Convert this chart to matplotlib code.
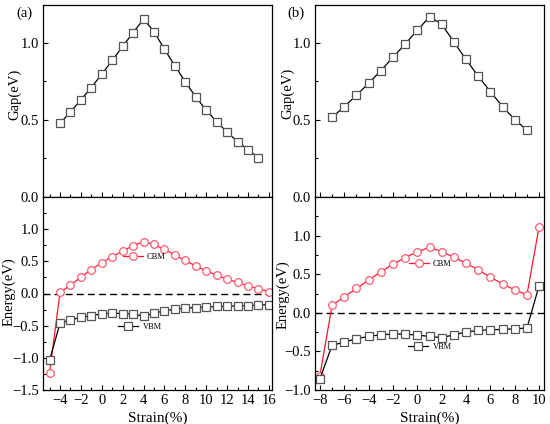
import matplotlib
matplotlib.use("Agg")
import matplotlib.pyplot as plt
from matplotlib.ticker import MultipleLocator

plt.rcParams['font.family'] = ['Liberation Serif', 'DejaVu Serif']
plt.rcParams['mathtext.fontset'] = 'stix'

# ---- Panel (a) data ----
a_gap_strain = [-4, -3, -2, -1, 0, 1, 2, 3, 4, 5, 6, 7, 8, 9, 10, 11, 12, 13, 14, 15]
a_gap = [0.478, 0.55, 0.63, 0.709, 0.796, 0.885, 0.976, 1.065, 1.152, 1.072,
         0.957, 0.85, 0.746, 0.648, 0.563, 0.487, 0.42, 0.359, 0.307, 0.254]
a_strain = [-5, -4, -3, -2, -1, 0, 1, 2, 3, 4, 5, 6, 7, 8, 9, 10, 11, 12, 13, 14, 15, 16]
a_cbm = [-1.228, 0.016, 0.13, 0.254, 0.373, 0.477, 0.575, 0.658, 0.746, 0.803, 0.762,
         0.684, 0.601, 0.513, 0.425, 0.352, 0.285, 0.223, 0.171, 0.119, 0.073, 0.031]
a_vbm = [-1.036, -0.461, -0.409, -0.373, -0.342, -0.316, -0.306, -0.311, -0.321, -0.352,
         -0.306, -0.269, -0.244, -0.228, -0.218, -0.212, -0.202, -0.197, -0.192, -0.187,
         -0.181, -0.171]

# ---- Panel (b) data ----
b_gap_strain = [-7, -6, -5, -4, -3, -2, -1, 0, 1, 2, 3, 4, 5, 6, 7, 8, 9]
b_gap = [0.515, 0.585, 0.659, 0.736, 0.819, 0.904, 0.991, 1.079, 1.168, 1.12,
         1.004, 0.891, 0.782, 0.683, 0.585, 0.502, 0.432]
b_strain = [-8, -7, -6, -5, -4, -3, -2, -1, 0, 1, 2, 3, 4, 5, 6, 7, 8, 9, 10]
b_cbm = [-0.815, 0.095, 0.207, 0.315, 0.422, 0.53, 0.629, 0.716, 0.789, 0.849, 0.793,
         0.72, 0.642, 0.556, 0.461, 0.375, 0.297, 0.233, 1.116]
b_vbm = [-0.858, -0.422, -0.379, -0.336, -0.306, -0.284, -0.276, -0.276, -0.289, -0.306,
         -0.323, -0.284, -0.25, -0.228, -0.22, -0.216, -0.207, -0.198, 0.353]

W, H = 550, 424
fig = plt.figure(figsize=(5.5, 4.24), dpi=100)

RED = '#ff1a2e'
RED_M = '#ff5a6e'
SQ = '#555555'

def ax_rect(x0, x1, ytop, ybot):
    return [x0 / W, (H - ybot) / H, (x1 - x0) / W, (ybot - ytop) / H]

def style(ax, xmaj, ymaj, yminor):
    ax.tick_params(direction='in', which='both', top=False, right=False,
                   labelsize=10.5, length=3.5, width=0.8, pad=3)
    ax.xaxis.set_major_locator(MultipleLocator(xmaj))
    ax.xaxis.set_minor_locator(MultipleLocator(1))
    ax.yaxis.set_major_locator(MultipleLocator(ymaj))
    ax.yaxis.set_minor_locator(MultipleLocator(yminor))
    ax.tick_params(which='minor', length=2.5)
    for s in ax.spines.values():
        s.set_linewidth(0.9)

def panel(x0, x1, xlim, gs, g, s, cbm, vbm, ylim_b, yticks_b, label,
          cbm_leg, vbm_leg, gap_lx, gap_ly, en_lx, en_ly):
    w = x1 - x0
    axt = fig.add_axes(ax_rect(x0, x1, 4.5, 197))
    axb = fig.add_axes(ax_rect(x0, x1, 197, 390))
    axt.plot(gs, g, '-', color='black', lw=0.9, marker='s', ms=5.2,
             mfc='white', mec=SQ, mew=0.9)
    axt.set_xlim(*xlim)
    axt.set_ylim(0, 1.247)
    style(axt, 2, 0.5, 0.25)
    axt.set_yticks([0.0, 0.5, 1.0])
    axt.set_yticklabels(['0.0', '0.5', '1.0'])
    axt.tick_params(labelbottom=False)
    axt.set_ylabel('Gap(eV)', fontsize=10.5)
    axt.yaxis.set_label_coords((gap_lx - x0) / w, (197 - gap_ly) / 192.5)

    axb.axhline(0, color='black', lw=1.0, ls=(0, (5, 3)))
    lc, = axb.plot(s, cbm, '-', color=RED, lw=0.9, marker='o', ms=5.5,
                   mfc='white', mec=RED_M, mew=0.9)
    lv, = axb.plot(s, vbm, '-', color='black', lw=0.9, marker='s', ms=5.2,
                   mfc='white', mec=SQ, mew=0.9)
    axb.set_xlim(*xlim)
    axb.set_ylim(*ylim_b)
    style(axb, 2, 0.5, 0.25)
    axb.set_yticks(yticks_b)
    axb.set_yticklabels(['%.1f' % v if v >= 0 else '\u2212%.1f' % -v for v in yticks_b])
    xt = [v for v in range(int(xlim[0]) - 1, int(xlim[1]) + 1) if v % 2 == 0 and xlim[0] < v < xlim[1]]
    axb.set_xticks(xt)
    axb.set_xticklabels([str(v) if v >= 0 else '\u2212%d' % -v for v in xt])
    axb.set_xlabel('Strain(%)', fontsize=11)
    axb.xaxis.set_label_coords(0.5, (390 - 412) / 193)
    axb.set_ylabel('Energy(eV)', fontsize=10.5)
    axb.yaxis.set_label_coords((en_lx - x0) / w, (390 - en_ly) / 193)

    kw = dict(loc='center', frameon=False, fontsize=6, handlelength=2.4,
              handletextpad=0.5, borderpad=0, borderaxespad=0)
    leg1 = axb.legend([lc], ['CBM'], bbox_to_anchor=((cbm_leg[0] - x0) / w, (390 - cbm_leg[1]) / 193), **kw)
    axb.add_artist(leg1)
    axb.legend([lv], ['VBM'], bbox_to_anchor=((vbm_leg[0] - x0) / w, (390 - vbm_leg[1]) / 193), **kw)

    fig.text((x0 - 19) / W, (H - 13) / H, label, fontsize=10.5,
             ha='center', va='center')
    return axt, axb

# label x coordinates below are the right edges of the rotated y labels
panel(43, 272, (-5.63, 16.3), a_gap_strain, a_gap, a_strain, a_cbm, a_vbm,
      (-1.5, 1.5), [-1.5, -1.0, -0.5, 0.0, 0.5, 1.0], '(a)',
      (144, 257), (140, 327), 21, 94, 15.5, 292)
panel(315, 544, (-8.4, 10.4), b_gap_strain, b_gap, b_strain, b_cbm, b_vbm,
      (-1.0, 1.5), [-1.0, -0.5, 0.0, 0.5, 1.0], '(b)',
      (430, 264), (430, 347), 294, 93, 290, 295)

fig.savefig('out.png', dpi=100)
